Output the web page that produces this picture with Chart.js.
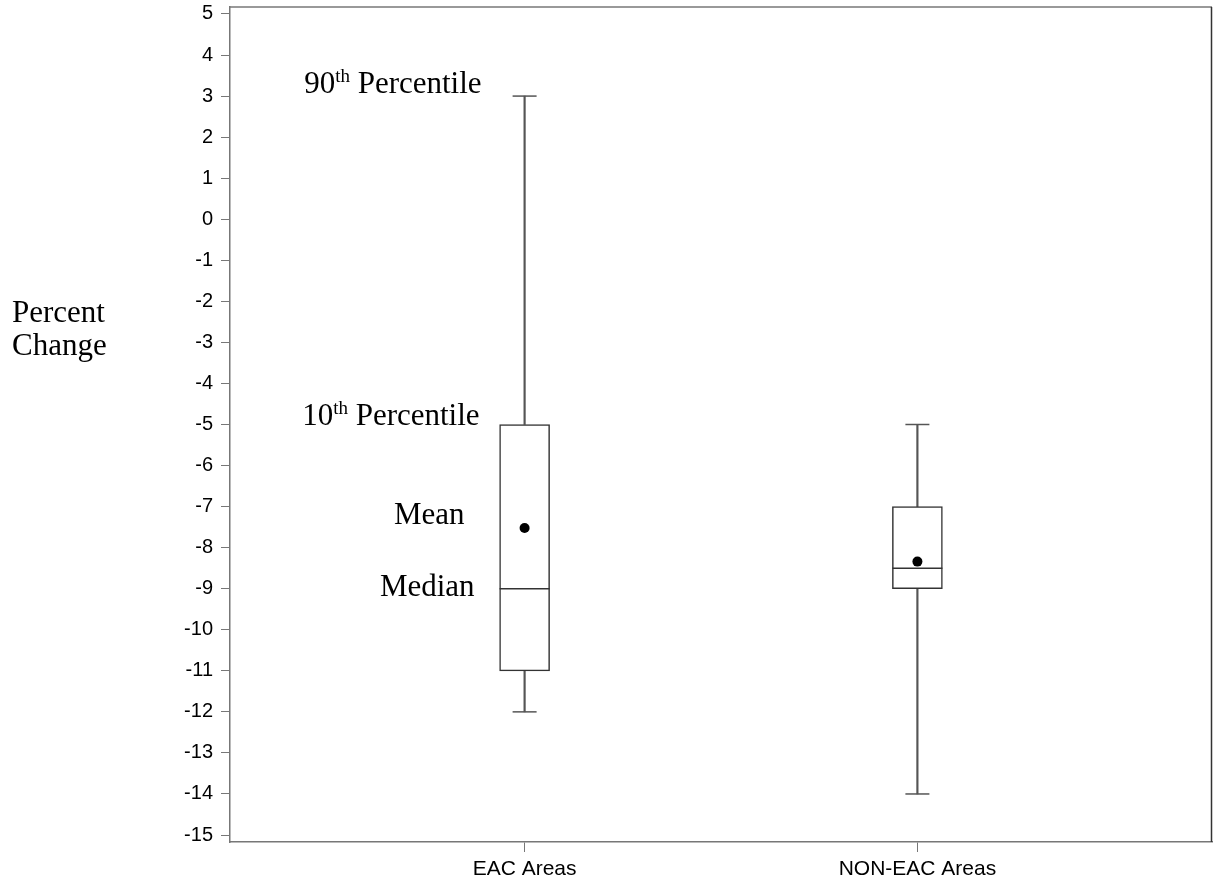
<!DOCTYPE html>
<html>
<head>
<meta charset="utf-8">
<script src="https://cdn.jsdelivr.net/npm/chart.js@4/dist/chart.umd.min.js"></script>
<style>
	html, body { margin: 0; padding: 0; background: #fff; }
	#wrap { width: 1213px; height: 877px; }
</style>
</head>
<body>
<div id="wrap"><canvas id="boxChart" width="1213" height="877"></canvas></div>
<script>
const categories = ["EAC Areas", "NON-EAC Areas"];
const whiskerHigh = [3, -5];
const boxHigh = [-5, -7];
const medians = [-9, -8.5];
const boxLow = [-11, -9];
const whiskerLow = [-12, -14];
const means = [-7.52, -8.34];
const yTicks = [5, 4, 3, 2, 1, 0, -1, -2, -3, -4, -5, -6, -7, -8, -9, -10, -11, -12, -13, -14, -15];

const sans = "'Liberation Sans', Arial, sans-serif";
const serif = "'Liberation Serif', 'Times New Roman', serif";

function pts(values) {
	return values.map(function (v, i) { return { x: i, y: v }; });
}
function spans(lo, hi) {
	return lo.map(function (v, i) { return { x: i, y: [v, hi[i]] }; });
}

// frame on top/right plus the text notes on the left
const notes = {
	id: "notes",
	afterDraw: function (chart) {
		const ctx = chart.ctx;
		const a = chart.chartArea;
		const x = chart.scales.x;
		const y = chart.scales.y;
		ctx.save();
		ctx.lineWidth = 1.5;
		ctx.strokeStyle = "#777";
		ctx.beginPath();
		ctx.moveTo(a.left, a.top);
		ctx.lineTo(a.right, a.top);
		ctx.stroke();
		ctx.strokeStyle = "#333";
		ctx.beginPath();
		ctx.moveTo(a.right - 0.5, a.top);
		ctx.lineTo(a.right - 0.5, a.bottom);
		ctx.stroke();

		ctx.fillStyle = "#000";
		ctx.textBaseline = "alphabetic";
		ctx.textAlign = "left";
		ctx.font = "31px " + serif;
		ctx.fillText("Percent", 12, 322);
		ctx.fillText("Change", 12, 355);

		const boxLeft = x.getPixelForValue(0) - 25;

		function sup(num, right, base) {
			ctx.font = "31px " + serif;
			const w1 = ctx.measureText(num).width;
			const w3 = ctx.measureText(" Percentile").width;
			ctx.font = "19px " + serif;
			const w2 = ctx.measureText("th").width;
			let left = right - w1 - w2 - w3;
			ctx.textAlign = "left";
			ctx.font = "31px " + serif;
			ctx.fillText(num, left, base);
			ctx.font = "19px " + serif;
			ctx.fillText("th", left + w1, base - 11);
			ctx.font = "31px " + serif;
			ctx.fillText(" Percentile", left + w1 + w2, base);
		}
		sup("90", boxLeft - 18, y.getPixelForValue(whiskerHigh[0]) - 3);
		sup("10", boxLeft - 20, y.getPixelForValue(boxHigh[0]));

		ctx.textAlign = "right";
		ctx.font = "31px " + serif;
		ctx.fillText("Mean", boxLeft - 35, y.getPixelForValue(means[0]) - 4);
		ctx.fillText("Median", boxLeft - 25, y.getPixelForValue(medians[0]) + 7);
		ctx.restore();
	},
};

const ctx = document.getElementById("boxChart").getContext("2d");

new Chart(ctx, {
	type: "bar",
	data: {
		datasets: [
			{
				type: "bar",
				data: spans(boxLow, boxHigh),
				backgroundColor: "#fff",
				borderColor: "#333",
				borderWidth: 1.5,
				borderSkipped: false,
				barThickness: 50,
				grouped: false,
				order: 3,
			},
			{
				type: "bar",
				data: spans(boxHigh, whiskerHigh),
				backgroundColor: "#555",
				borderWidth: 0,
				barThickness: 1.5,
				grouped: false,
				order: 4,
			},
			{
				type: "bar",
				data: spans(whiskerLow, boxLow),
				backgroundColor: "#555",
				borderWidth: 0,
				barThickness: 1.5,
				grouped: false,
				order: 4,
			},
			{
				type: "line",
				data: pts(whiskerHigh).concat(pts(whiskerLow)),
				showLine: false,
				pointStyle: "line",
				pointRadius: 12,
				borderColor: "#555",
				borderWidth: 1.5,
				order: 2,
			},
			{
				type: "line",
				data: pts(medians),
				showLine: false,
				pointStyle: "line",
				pointRadius: 25,
				borderColor: "#333",
				borderWidth: 1.5,
				order: 1,
			},
			{
				type: "line",
				data: pts(means),
				showLine: false,
				pointStyle: "circle",
				pointRadius: 5,
				backgroundColor: "#000",
				borderColor: "#000",
				borderWidth: 0,
				order: 0,
			},
		],
	},
	options: {
		responsive: false,
		animation: false,
		events: [],
		layout: { autoPadding: false, padding: { top: 7, right: 1, left: 0, bottom: 0 } },
		plugins: {
			legend: { display: false },
			tooltip: { enabled: false },
		},
		scales: {
			x: {
				type: "linear",
				min: -0.75,
				max: 1.75,
				offset: false,
				afterBuildTicks: function (axis) {
					axis.ticks = categories.map(function (c, i) { return { value: i }; });
				},
				afterFit: function (axis) {
					axis.height = 35;
					axis.paddingLeft = 0;
					axis.paddingRight = 0;
				},
				ticks: {
					callback: function (v) { return categories[v]; },
					color: "#000",
					font: { family: sans, size: 21 },
					padding: 5,
					maxRotation: 0,
				},
				grid: {
					offset: false,
					drawOnChartArea: false,
					drawTicks: true,
					tickLength: 10,
					color: "#777",
				},
				border: { color: "#777", width: 1.5 },
			},
			y: {
				min: -15.17,
				max: 5.17,
				afterBuildTicks: function (axis) {
					axis.ticks = yTicks.map(function (v) { return { value: v }; });
				},
				afterFit: function (axis) {
					axis.width = 230;
					axis.paddingTop = 0;
					axis.paddingBottom = 0;
				},
				ticks: {
					color: "#000",
					font: { family: sans, size: 20 },
					padding: 8,
				},
				grid: {
					drawOnChartArea: false,
					drawTicks: true,
					tickLength: 9,
					color: "#777",
				},
				border: { color: "#777", width: 1.5 },
			},
		},
	},
	plugins: [notes],
});
</script>
</body>
</html>
